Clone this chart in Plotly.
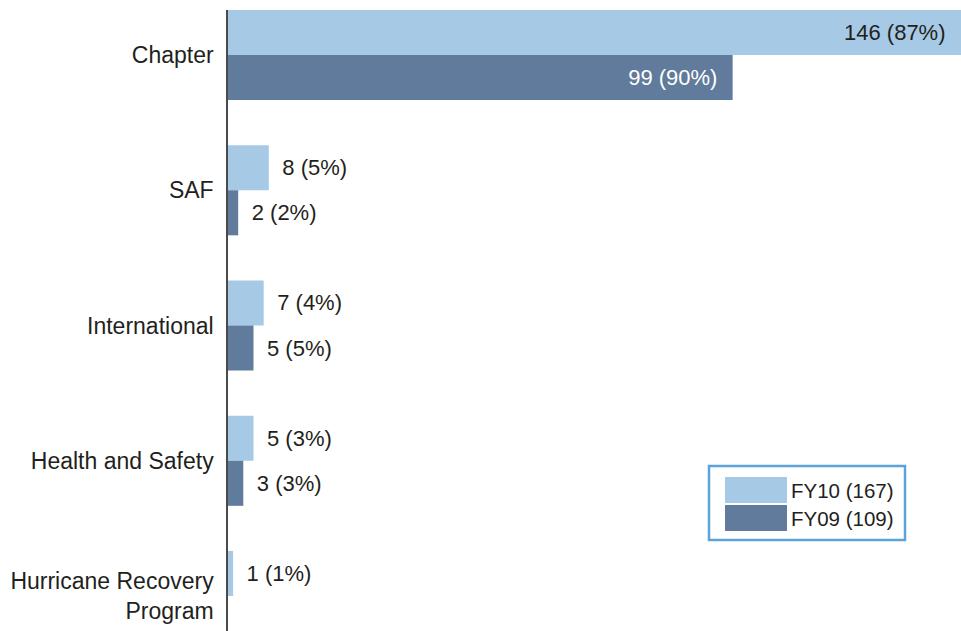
import plotly.graph_objects as go

categories = ["Chapter", "SAF", "International", "Health and Safety", "Hurricane Recovery<br>Program"]
fy10_counts = [146, 8, 7, 5, 1]
fy10_pct = [87, 5, 4, 3, 1]
fy09_counts = [99, 2, 5, 3, 0]
fy09_pct = [90, 2, 5, 3, 0]
series_names = ["FY10 (167)", "FY09 (109)"]

LIGHT = "#a6c9e5"
DARK = "#607b9b"
TEXT = "#231f20"
FONT = "Liberation Sans, Arial, sans-serif"
NB = "\u00a0"
THIN = "\u2009"

W, H = 961, 631
L, T = 228, 10
X_MAX = 143.8  # longest bar runs past the right edge in the original
PITCH = 135.25  # px per category
BARGAP = 1 / 3


def labels(counts, pcts):
    out, pos = [], []
    for c, p in zip(counts, pcts):
        if c == 0 or c > X_MAX:
            out.append("")
            pos.append("none")
        elif c > 50:
            out.append(f"{c} ({p}%)" + NB * 2)
            pos.append("inside")
        else:
            out.append(NB + THIN + f"{c} ({p}%)")
            pos.append("outside")
    return out, pos


fig = go.Figure()
series = [
    (series_names[0], fy10_counts, fy10_pct, LIGHT, TEXT, +1),
    (series_names[1], fy09_counts, fy09_pct, DARK, "white", -1),
]
for name, counts, pcts, color, inside_col, side in series:
    txt, pos = labels(counts, pcts)
    fig.add_trace(go.Bar(
        y=categories, x=counts, name=name, orientation="h",
        marker=dict(color=color, line=dict(width=0)),
        text=txt, textposition=pos, insidetextanchor="end",
        insidetextfont=dict(color=inside_col, size=22, family=FONT),
        outsidetextfont=dict(color=TEXT, size=22, family=FONT),
        constraintext="none", cliponaxis=True,
    ))
    # bars cut off at the right edge get their label pinned to the edge
    for cat, c, p in zip(categories, counts, pcts):
        if c > X_MAX:
            fig.add_annotation(
                x=X_MAX, y=cat, text=f"{c} ({p}%)", showarrow=False,
                xanchor="right", yanchor="middle", xshift=-13,
                yshift=side * PITCH * (1 - BARGAP) / 4,
                font=dict(size=22, color=inside_col, family=FONT))

# plot area from y=10 to 631 px, first category centre at y=55
top_u = (T - 55) / PITCH
bot_u = (H - 55) / PITCH

fig.update_layout(
    width=W, height=H,
    margin=dict(l=L, r=0, t=T, b=0),
    barmode="group", bargap=BARGAP, bargroupgap=0,
    plot_bgcolor="white", paper_bgcolor="white",
    showlegend=False,
    font=dict(family=FONT, size=22, color=TEXT),
)
fig.update_xaxes(range=[0, X_MAX], visible=False, showgrid=False, zeroline=False)
fig.update_yaxes(
    categoryorder="array", categoryarray=categories,
    range=[bot_u, top_u], showgrid=False, zeroline=False,
    showline=True, linecolor="#4a4a4a", linewidth=1.5,
    ticks="", ticklabelstandoff=8,
    tickfont=dict(size=23, color=TEXT, family=FONT),
)


# custom legend (paper coords derived from pixel layout)
def px(x):
    return (x - L) / (W - L)


def py(y):
    return (H - y) / (H - T)


fig.add_shape(type="rect", xref="paper", yref="paper",
              x0=px(709), x1=px(905), y0=py(540), y1=py(466),
              line=dict(color="#5ba3d9", width=2.5), fillcolor="white")
for (y0, y1), color, name in [((477, 503), LIGHT, series_names[0]),
                              ((505, 531), DARK, series_names[1])]:
    fig.add_shape(type="rect", xref="paper", yref="paper",
                  x0=px(725), x1=px(787), y0=py(y1), y1=py(y0),
                  line=dict(width=0), fillcolor=color)
    fig.add_annotation(xref="paper", yref="paper", x=px(789), y=py((y0 + y1) / 2),
                       text=name, showarrow=False, xanchor="left", yanchor="middle",
                       font=dict(size=20.5, color=TEXT, family=FONT))

fig.write_html("out.html", config={"displayModeBar": False},
               post_script="document.body.style.margin='0';")
